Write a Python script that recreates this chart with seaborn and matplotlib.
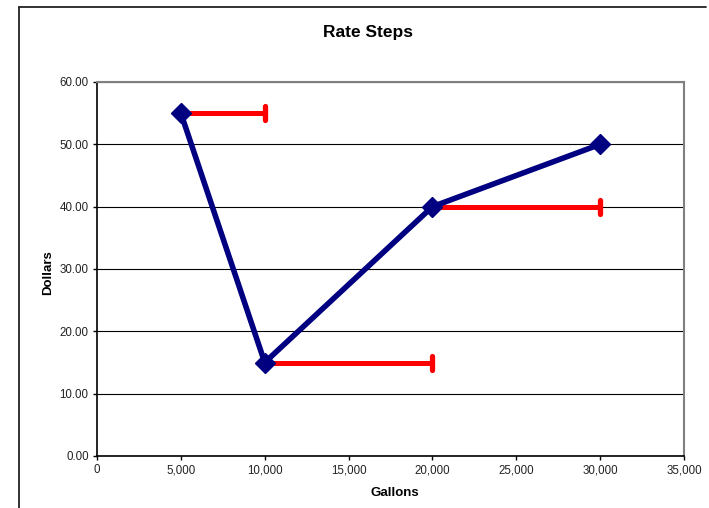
import pandas as pd
import matplotlib.pyplot as plt
import seaborn as sns
from matplotlib.lines import Line2D
from matplotlib.markers import MarkerStyle
from matplotlib.ticker import FuncFormatter, MultipleLocator

# rate step data
gallons = [5000, 10000, 20000, 30000]
dollars = [55, 15, 40, 50]

# red step bars: each rate runs on to the next break point
step_start = [5000, 10000, 20000]
step_rate = [55, 15, 40]
step_length = [5000, 10000, 10000]

df = pd.DataFrame({"Gallons": gallons, "Dollars": dollars})

sns.set_style("white")
plt.rcParams["font.family"] = ["Liberation Sans", "DejaVu Sans"]
plt.rcParams["text.color"] = "black"

fig = plt.figure(figsize=(7.09, 5.08), dpi=100)
ax = fig.add_axes([97 / 709, 1 - 456 / 508, (684 - 97) / 709, (456 - 82) / 508])

# steps first so the diamonds sit on top
eb = ax.errorbar(step_start, step_rate, xerr=[[0] * len(step_length), step_length],
                 fmt="none", ecolor="#FF0000", elinewidth=3.6, capsize=5,
                 capthick=3.8, zorder=2)
for cap in eb[1]:
    # only keep the cap at the far end of each step
    if list(cap.get_xdata()) == step_start:
        cap.set_visible(False)
    cap.set_marker(MarkerStyle("|", capstyle="round"))
sns.lineplot(data=df, x="Gallons", y="Dollars", ax=ax, color="#000080",
             linewidth=4, marker="D", markersize=10.5, markeredgecolor="#000080",
             markeredgewidth=1, zorder=3)

ax.set_xlim(0, 35000)
ax.set_ylim(0, 60)
ax.xaxis.set_major_locator(MultipleLocator(5000))
ax.yaxis.set_major_locator(MultipleLocator(10))
ax.xaxis.set_major_formatter(FuncFormatter(lambda v, p: f"{int(v):,}"))
ax.yaxis.set_major_formatter(FuncFormatter(lambda v, p: f"{v:.2f}"))
ax.tick_params(axis="both", direction="out", length=3, width=1, color="black",
               labelsize=8.3, labelcolor="#222222", bottom=True, left=True, pad=3)
ax.grid(axis="y", color="black", linewidth=0.8)
ax.grid(axis="x", visible=False)
ax.set_xlabel("")
ax.set_ylabel("")

for side in ["left", "bottom"]:
    ax.spines[side].set_color("black")
    ax.spines[side].set_linewidth(1.2)
for side in ["top", "right"]:
    ax.spines[side].set_color("#808080")
    ax.spines[side].set_linewidth(1.5)

fig.text(368 / 709, 1 - 33 / 508, "Rate Steps", ha="center", va="center",
         fontsize=12.5, fontweight="bold", color="black")
fig.text(395 / 709, 1 - 493 / 508, "Gallons", ha="center", va="center",
         fontsize=9.5, fontweight="bold", color="black")
fig.text(48 / 709, 1 - 273 / 508, "Dollars", ha="center", va="center",
         rotation=90, fontsize=9.5, fontweight="bold", color="black")

# outer chart border (only top and left are inside the picture)
fig.add_artist(Line2D([19 / 709, 19 / 709], [0, 1 - 7 / 508], color="#222222",
                      linewidth=1.3, transform=fig.transFigure))
fig.add_artist(Line2D([19 / 709, 706 / 709], [1 - 7 / 508, 1 - 7 / 508],
                      color="#222222", linewidth=1.3, transform=fig.transFigure))

plt.savefig("out.png", dpi=100)
